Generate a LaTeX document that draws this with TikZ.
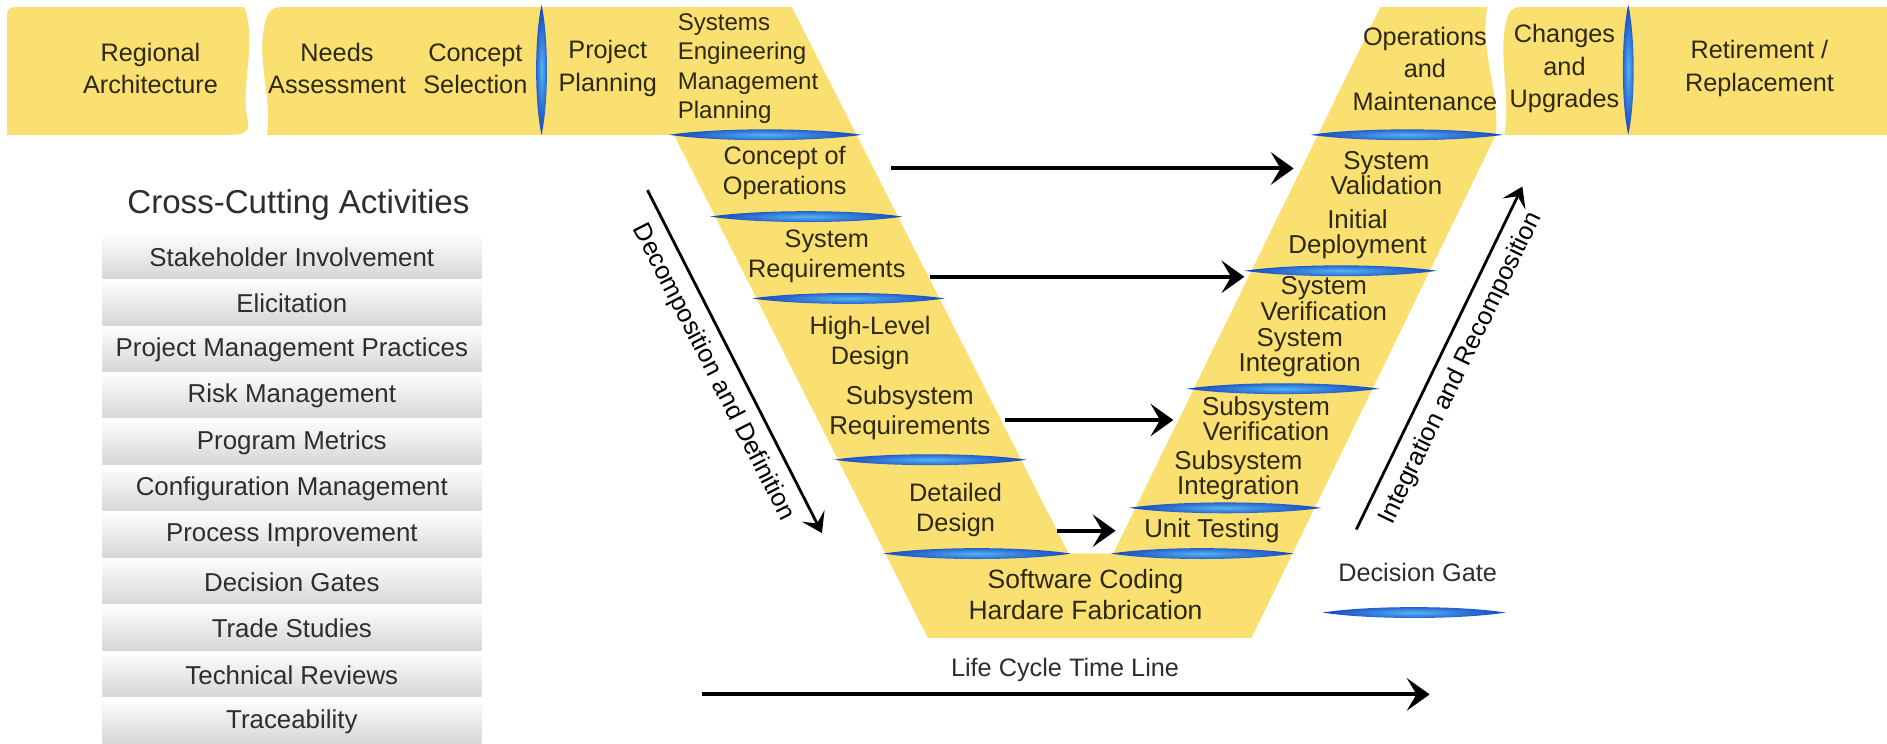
\documentclass[tikz,border=0pt]{standalone}
\usepackage{fontspec}
\setmainfont{Liberation Sans}
\usetikzlibrary{arrows.meta}
\definecolor{vyellow}{RGB}{250,224,112}
\definecolor{vtext}{RGB}{45,40,20}
\definecolor{gdark}{RGB}{20,70,190}
\definecolor{glight}{RGB}{85,180,245}
\definecolor{boxtext}{RGB}{45,45,50}
\newcommand\hgate[3]{%
  \shade[inner color=glight, outer color=gdark] (#1-#3,#2) .. controls (#1-#3/2,#2-6) and (#1+#3/2,#2-6) .. (#1+#3,#2) .. controls (#1+#3/2,#2+6) and (#1-#3/2,#2+6) .. cycle;}
\newcommand\vgate[3]{%
  \shade[inner color=glight, outer color=gdark] (#1,#2-#3) .. controls (#1-6,#2-#3/2) and (#1-6,#2+#3/2) .. (#1,#2+#3) .. controls (#1+6,#2+#3/2) and (#1+6,#2-#3/2) .. cycle;}
\tikzset{
  vtxt/.style={text=vtext, align=center, font=\fontsize{21}{25}\selectfont, inner sep=0pt},
  toptxt/.style={text=vtext, align=center, font=\fontsize{21}{27}\selectfont, inner sep=0pt},
  rtxt/.style={text=vtext, align=center, font=\fontsize{21.5}{21}\selectfont, inner sep=0pt},
  cbox/.style={minimum width=315pt, minimum height=36pt, top color=gray!2, bottom color=gray!32, draw=none, text=boxtext, font=\fontsize{21.5}{24}\selectfont, inner sep=0pt},
  bigarrow/.style={line width=3.3pt, -{Stealth[length=19pt,width=27pt,inset=8pt]}},
  diagarrow/.style={line width=2.3pt, -{Stealth[length=16pt,width=21pt,inset=7pt]}},
  lbl/.style={text=boxtext, font=\fontsize{21}{24}\selectfont, inner sep=0pt}
}
\begin{document}
\begin{tikzpicture}[x=1pt,y=-1pt]
\useasboundingbox (0,0) rectangle (1568,618);
\fill[white] (0,0) rectangle (1568,618);

% yellow shapes
\fill[vyellow] (6,12) .. controls (6,8) and (8,6) .. (12,6) -- (203,6) .. controls (214,35) and (199,75) .. (206,100) .. controls (208,110) and (202,112) .. (192,112) -- (6,112) -- cycle;
\fill[vyellow] (232,6) -- (658,6) -- (888,460) -- (925,460) -- (1147,6) -- (1236,6) .. controls (1229,40) and (1246,75) .. (1243,112) -- (1040,530) -- (771,530) -- (560,112) -- (222,112) .. controls (226,80) and (213,50) .. (220,20) .. controls (222,10) and (226,6) .. (232,6) -- cycle;
\fill[vyellow] (1262,6) -- (1568,6) -- (1568,112) -- (1250,112) .. controls (1256,80) and (1244,45) .. (1252,16) .. controls (1254,9) and (1257,6) .. (1262,6) -- cycle;

% decision gates
\vgate{450}{58}{54}
\vgate{1353}{58}{54}
\hgate{636}{112}{80}
\hgate{670}{180}{80}
\hgate{705}{248}{80}
\hgate{773}{382}{80}
\hgate{812}{460}{78}
\hgate{1169}{112}{80}
\hgate{1114}{225}{80}
\hgate{1066}{323}{80}
\hgate{1018}{422}{80}
\hgate{999}{460}{76}

% top band texts
\node[toptxt] (regional) at (125,57) {Regional\\Architecture};
\node[toptxt] (needs) at (280,57) {Needs\\Assessment};
\node[toptxt] (consel) at (395,57) {Concept\\Selection};
\node[toptxt] (projplan) at (505,57) {Project\\Planning};
\node[vtxt, align=left, anchor=west, font=\fontsize{20}{24.5}\selectfont] (seplan) at (563,57) {Systems\\Engineering\\Management\\Planning};
\node[toptxt] (opsmaint) at (1184,57) {Operations\\and\\Maintenance};
\node[toptxt] (changes) at (1300,57) {Changes\\and\\Upgrades};
\node[toptxt] (retire) at (1462,57) {Retirement /\\Replacement};

% left arm
\node[vtxt] (conops) at (652,144) {Concept of\\Operations};
\node[vtxt] (sysreq) at (687,213) {System\\Requirements};
\node[vtxt] (hld) at (723,285) {High-Level\\Design};
\node[vtxt, font=\fontsize{21.5}{25}\selectfont] (subreq) at (756,343) {Subsystem\\Requirements};
\node[vtxt] (dd) at (794,424) {Detailed\\Design};
\node[vtxt, font=\fontsize{22}{25}\selectfont] (swcode) at (902,494) {Software Coding\\Hardare Fabrication};

% right arm
\node[rtxt] (sysval) at (1152,144) {System\\Validation};
\node[rtxt] (initdep) at (1128,195) {Initial\\Deployment};
\node[rtxt] (sysver) at (1100,248) {System\\Verification};
\node[rtxt] (sysint) at (1080,293) {System\\Integration};
\node[rtxt] (subver) at (1052,348) {Subsystem\\Verification};
\node[rtxt] (subint) at (1029,395) {Subsystem\\Integration};
\node[rtxt] (unit) at (1007,441) {Unit Testing};

% horizontal arrows
\coordinate (a1s) at (740,140); \coordinate (a1e) at (1075,140);
\coordinate (a2s) at (773,230); \coordinate (a2e) at (1034,230);
\coordinate (a3s) at (835,349); \coordinate (a3e) at (975,349);
\coordinate (a4s) at (878,441); \coordinate (a4e) at (927,441);
\draw[bigarrow] (a1s) -- (a1e);
\draw[bigarrow] (a2s) -- (a2e);
\draw[bigarrow] (a3s) -- (a3e);
\draw[bigarrow] (a4s) -- (a4e);

% diagonal arrows
\coordinate (dds) at (538,158); \coordinate (dde) at (683,443);
\draw[diagarrow] (dds) -- node[lbl, sloped, below=9pt, text=black] (decomp) {Decomposition and Definition} (dde);
\coordinate (irs) at (1127,440); \coordinate (ire) at (1265,155);
\draw[diagarrow] (irs) -- node[lbl, sloped, below=9pt, text=black] (integ) {Integration and Recomposition} (ire);

% life cycle
\coordinate (lcs) at (583,577); \coordinate (lce) at (1188,577);
\draw[bigarrow] (lcs) -- (lce);
\node[lbl] (lclabel) at (885,557) {Life Cycle Time Line};

% legend
\node[lbl] (dglabel) at (1178,476) {Decision Gate};
\hgate{1175}{509}{76}

% cross cutting
\node[lbl, font=\fontsize{27.5}{30}\selectfont] (cctitle) at (248,170) {Cross-Cutting Activities};
\foreach \t [count=\i from 0] in {Stakeholder Involvement, Elicitation, Project Management Practices, Risk Management, Program Metrics, Configuration Management, Process Improvement, Decision Gates, Trade Studies, Technical Reviews, Traceability}{
  \node[cbox] (cc\i) at (242.5,{213.5+38.6*\i}) {\t};
}
\end{tikzpicture}
\end{document}
